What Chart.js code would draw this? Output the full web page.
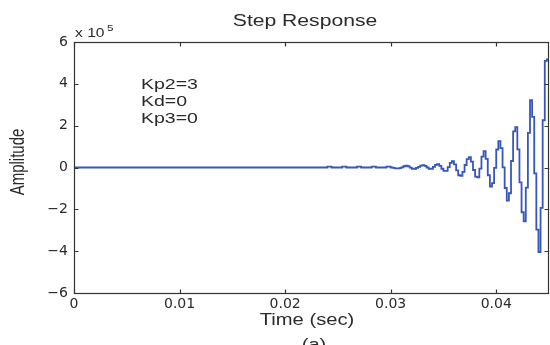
<!DOCTYPE html>
<html>
<head>
<meta charset="utf-8">
<script src="https://cdn.jsdelivr.net/npm/chart.js@4.4.1/dist/chart.umd.min.js"></script>
<style>
  html, body { margin: 0; padding: 0; background: #fff; }
</style>
</head>
<body>
<canvas id="stepChart" width="550" height="345"></canvas>
<script>
// sample times (sec)
const timeSec = [
  0,
  0.0236, 0.0238, 0.0240, 0.0242, 0.0244, 0.0246, 0.0248, 0.0250, 0.0252, 0.0254,
  0.0256, 0.0258, 0.0260, 0.0262, 0.0264, 0.0266, 0.0268, 0.0270, 0.0272, 0.0274,
  0.0276, 0.0278, 0.0280, 0.0282, 0.0284, 0.0286, 0.0288, 0.0290, 0.0292, 0.0294,
  0.0296, 0.0298, 0.0300, 0.0302, 0.0304, 0.0306, 0.0308, 0.0310, 0.0312, 0.0314,
  0.0316, 0.0318, 0.0320, 0.0322, 0.0324, 0.0326, 0.0328, 0.0330, 0.0332, 0.0334,
  0.0336, 0.0338, 0.0340, 0.0342, 0.0344, 0.0346, 0.0348, 0.0350, 0.0352, 0.0354,
  0.0356, 0.0358, 0.0360, 0.0362, 0.0364, 0.0366, 0.0368, 0.0370, 0.0372, 0.0374,
  0.0376, 0.0378, 0.0380, 0.0382, 0.0384, 0.0386, 0.0388, 0.0390, 0.0392, 0.0394,
  0.0396, 0.0398, 0.0400, 0.0402, 0.0404, 0.0406, 0.0408, 0.0410, 0.0412, 0.0414,
  0.0416, 0.0418, 0.0420, 0.0422, 0.0424, 0.0426, 0.0428, 0.0430, 0.0432, 0.0434,
  0.0436, 0.0438, 0.0440, 0.0442, 0.0444, 0.0446, 0.0448, 0.0450
];

// amplitude in units of 1e5
const amplitudeE5 = [
  0,
  0, 0, 0.04, 0.04, 0, 0, 0, 0, 0, 0.04,
  0.04, 0, 0, 0, 0, 0, 0.04, 0.04, 0, 0,
  0, 0, 0, 0.04, 0.04, 0, 0, 0, 0, 0,
  0.04, 0.04, 0, -0.02, -0.04, -0.04, -0.03, 0.01, 0.06, 0.09,
  0.06, -0.01, -0.06, -0.06, -0.02, 0.03, 0.09, 0.11, 0.08, 0,
  -0.07, -0.06, 0.03, 0.13, 0.16, 0.08, -0.06, -0.16, -0.16, 0.02,
  0.22, 0.30, 0.15, -0.14, -0.37, -0.40, -0.21, 0.12, 0.40, 0.49,
  0.28, -0.12, -0.44, -0.47, -0.05, 0.52, 0.78, 0.41, -0.37, -0.91,
  -0.75, -0.02, 0.86, 1.26, 0.93, 0.01, -0.98, -1.58, -1.23, 0.31,
  1.73, 1.93, 0.87, -0.71, -2.14, -2.57, -0.96, 1.66, 3.22, 2.42,
  -0.28, -2.97, -4.05, -1.93, 2.26, 5.10, 5.17, 2.5
];

const xTicks = [0, 0.01, 0.02, 0.03, 0.04];
const yTicks = [-6, -4, -2, 0, 2, 4, 6];
const gainLines = ["Kp2=3", "Kd=0", "Kp3=0"];

const ink = "#2a2a2a";
const sansFont = "'Liberation Sans', Arial, sans-serif";

// the source image is stretched sideways, so text is drawn wider than tall
function wideText(ctx, text, x, y, size, align, sx) {
  ctx.save();
  ctx.font = size + "px " + sansFont;
  ctx.fillStyle = ink;
  ctx.textAlign = align;
  ctx.textBaseline = "alphabetic";
  ctx.translate(x, y);
  ctx.scale(sx, 1);
  ctx.fillText(text, 0, 0);
  ctx.restore();
}

const matlabAxes = {
  id: "matlabAxes",
  afterDraw(chart) {
    const { ctx, chartArea: a, scales } = chart;
    const L = a.left + 0.5, R = a.right - 0.5, T = a.top + 0.5, B = a.bottom + 0.5;

    ctx.save();
    ctx.strokeStyle = "#333";
    ctx.lineWidth = 1.2;
    ctx.strokeRect(L, T, R - L, B - T);

    ctx.beginPath();
    xTicks.forEach((v) => {
      const px = Math.round(scales.x.getPixelForValue(v)) + 0.5;
      ctx.moveTo(px, B); ctx.lineTo(px, B - 4);
      ctx.moveTo(px, T); ctx.lineTo(px, T + 4);
    });
    yTicks.forEach((v) => {
      const py = Math.round(scales.y.getPixelForValue(v)) + 0.5;
      ctx.moveTo(L, py); ctx.lineTo(L + 4, py);
      ctx.moveTo(R, py); ctx.lineTo(R - 4, py);
    });
    ctx.stroke();
    ctx.restore();

    wideText(ctx, "Step Response", 305, 26, 16, "center", 1.32);
    wideText(ctx, "x 10", 75, 37, 12, "left", 1.3);
    wideText(ctx, "5", 107, 31, 9, "left", 1.3);
    wideText(ctx, "Time (sec)", 307, 325, 16, "center", 1.26);
    wideText(ctx, "(a)", 314, 350, 16, "center", 1.26);

    gainLines.forEach((s, i) => {
      wideText(ctx, s, 141, 89 + i * 17, 15, "left", 1.3);
    });

    ctx.save();
    ctx.font = "15px " + sansFont;
    ctx.fillStyle = ink;
    ctx.textAlign = "center";
    ctx.textBaseline = "middle";
    ctx.translate(19, 162);
    ctx.rotate(-Math.PI / 2);
    ctx.scale(1, 1.3);
    ctx.fillText("Amplitude", 0, 0);
    ctx.restore();
  }
};

new Chart(document.getElementById("stepChart"), {
  type: "line",
  data: {
    datasets: [
      {
        data: timeSec.map((t, i) => ({ x: t, y: amplitudeE5[i] })),
        borderColor: "#3556bb",
        borderWidth: 1.8,
        stepped: "before",
        pointRadius: 0,
        fill: false
      }
    ]
  },
  options: {
    responsive: false,
    animation: false,
    devicePixelRatio: 1,
    layout: { padding: { top: 42, right: 1, left: 0, bottom: 0 } },
    plugins: {
      legend: { display: false },
      tooltip: { enabled: false },
      title: { display: false }
    },
    scales: {
      x: {
        type: "linear",
        min: 0,
        max: 0.045,
        grid: { display: false, drawTicks: false },
        border: { display: false },
        afterBuildTicks: (scale) => { scale.ticks = xTicks.map((v) => ({ value: v })); },
        afterFit: (scale) => { scale.height = 52; },
        ticks: {
          padding: 3,
          color: ink,
          font: { family: "'DejaVu Sans'", size: 14 },
          callback: (v) => String(v)
        }
      },
      y: {
        min: -6,
        max: 6,
        grid: { display: false, drawTicks: false },
        border: { display: false },
        afterBuildTicks: (scale) => { scale.ticks = yTicks.map((v) => ({ value: v })); },
        afterFit: (scale) => { scale.width = 74; },
        ticks: {
          padding: 6,
          color: ink,
          font: { family: "'DejaVu Sans'", size: 14 },
          callback: (v) => (v < 0 ? "\u2212" + Math.abs(v) : String(v))
        }
      }
    }
  },
  plugins: [matlabAxes]
});
</script>
</body>
</html>
